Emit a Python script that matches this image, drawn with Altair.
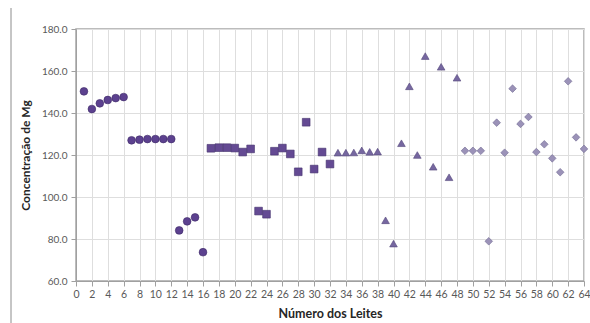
import altair as alt
import pandas as pd

leite = list(range(1, 65))
circ_vals = [150.3, 141.9, 144.6, 146.2, 147.1, 147.6, 127.0, 127.3, 127.6, 127.6, 127.6, 127.6,
             84.1, 88.4, 90.3, 73.7]
sq_vals = [123.2, 123.5, 123.5, 123.3, 121.4, 122.9, 93.3, 91.8, 121.8, 123.3, 120.5, 112.0,
           135.6, 113.3, 121.4, 115.7]
tri_vals = [121.1, 121.1, 121.2, 122.2, 121.5, 121.6, 88.9, 77.8, 125.6, 152.7, 120.0, 167.1,
            114.4, 162.0, 109.4, 156.8]
dia_vals = [122.0, 122.0, 122.0, 78.9, 135.4, 121.1, 151.6, 134.8, 138.1, 121.4, 125.1, 118.4,
            111.8, 155.1, 128.4, 122.9]
groups = ["A", "B", "C", "D"]
shapes = ["circle", "square", "triangle-up", "diamond"]
colors = ["#5c418f", "#644a93", "#7667a0", "#9b92b8"]
strokes = ["#3e2a66", "#43306b", "#54477a", "#6f6890"]
sizes = [60, 58, 72, 62]
x_ticks = list(range(0, 65, 2))
y_ticks = [60, 80, 100, 120, 140, 160, 180]

vals = circ_vals + sq_vals + tri_vals + dia_vals
grp = [g for g in groups for _ in range(16)]
df = pd.DataFrame({"Leite": leite, "Mg": vals, "grupo": grp})

FONT = "Lato"

base = alt.Chart(df).encode(
    x=alt.X("Leite:Q",
            scale=alt.Scale(domain=[0, 64], nice=False, zero=False),
            axis=alt.Axis(values=x_ticks, format="d", title="Número dos Leites",
                          grid=True, gridColor="#dedede", domainColor="#a0a0a0",
                          tickColor="#a0a0a0", tickSize=5, labelFontSize=10.5,
                          labelColor="#595959", labelFont=FONT, labelPadding=3,
                          titleFont=FONT, titleFontSize=12.5, titleFontWeight="bold",
                          titleColor="#262626", titlePadding=8, labelFlush=False)),
    y=alt.Y("Mg:Q",
            scale=alt.Scale(domain=[60, 180], nice=False, zero=False),
            axis=alt.Axis(values=y_ticks, format=".1f", title="Concentração de Mg",
                          grid=True, gridColor="#dedede", domainColor="#a0a0a0",
                          tickColor="#a0a0a0", tickSize=5, labelFontSize=10,
                          labelColor="#595959", labelFont=FONT, labelPadding=4,
                          titleFont=FONT, titleFontSize=12, titleFontWeight="bold",
                          titleColor="#262626", titlePadding=9, labelFlush=False)),
    color=alt.Color("grupo:N", scale=alt.Scale(domain=groups, range=colors), legend=None),
    stroke=alt.Stroke("grupo:N", scale=alt.Scale(domain=groups, range=strokes), legend=None),
    shape=alt.Shape("grupo:N", scale=alt.Scale(domain=groups, range=shapes), legend=None),
    size=alt.Size("grupo:N", scale=alt.Scale(domain=groups, range=sizes), legend=None),
)

points = base.mark_point(filled=True, opacity=1, strokeWidth=0.6)

frame = alt.Chart(pd.DataFrame({"a": [0]})).mark_rule(color="#8c8c8c", strokeWidth=1).encode(
    x=alt.value(-65), y=alt.value(-21), y2=alt.value(300))

chart = alt.layer(points, frame).properties(
    width=508, height=252,
    autosize=alt.AutoSizeParams(type="none"),
    padding={"left": 76, "top": 29, "right": 6, "bottom": 42},
    background="white",
).configure_view(stroke="#a6a6a6", strokeWidth=1.5)

chart.save("out.html", embed_options={"renderer": "svg", "actions": False})
